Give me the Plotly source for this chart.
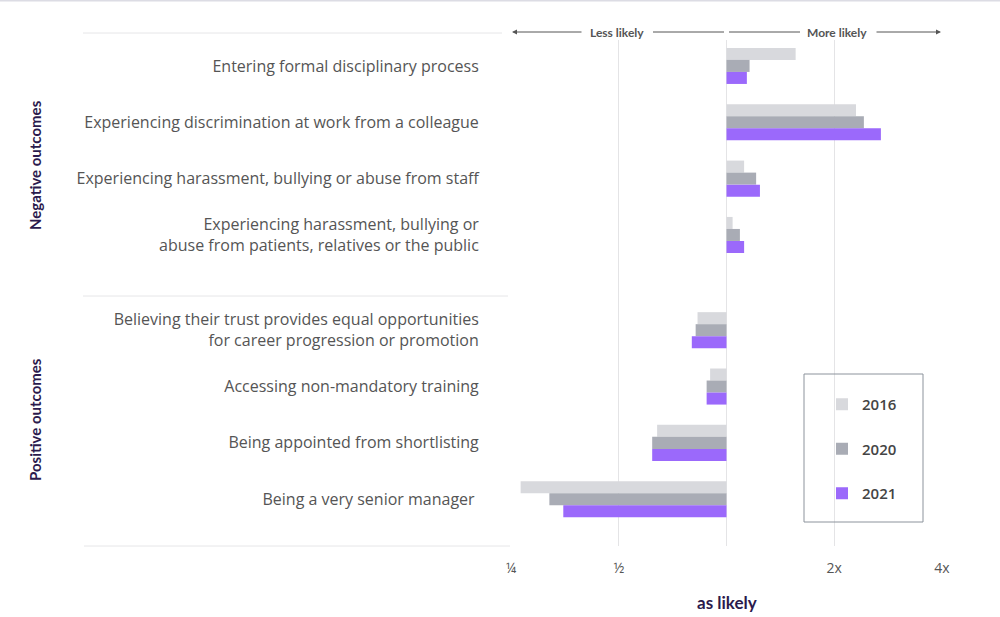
import plotly.graph_objects as go

# ---- data ----
categories = [
    "Entering formal disciplinary process",
    "Experiencing discrimination at work from a colleague",
    "Experiencing harassment, bullying or abuse from staff",
    "Experiencing harassment, bullying or<br>abuse from patients, relatives or the public",
    "Believing their trust provides equal opportunities<br>for career progression or promotion",
    "Accessing non-mandatory training",
    "Being appointed from shortlisting",
    "Being a very senior manager ",
]
sections = ["Negative outcomes"] * 4 + ["Positive outcomes"] * 4
years = ["2016", "2020", "2021"]
ratio_2016 = [1.56, 2.30, 1.12, 1.04, 0.83, 0.90, 0.64, 0.266]
ratio_2020 = [1.16, 2.42, 1.21, 1.09, 0.82, 0.88, 0.62, 0.32]
ratio_2021 = [1.14, 2.70, 1.24, 1.12, 0.80, 0.88, 0.62, 0.35]
tick_vals = [0.25, 0.5, 1, 2, 4]
tick_text = ["¼", "½", "", "2x", "4x"]

series = [ratio_2016, ratio_2020, ratio_2021]
colors = ["#d8d9dd", "#a9acb5", "#9b69fb"]

# category positions: extra gap between the two sections
section_gap = 0.69
ypos = []
for i, s in enumerate(sections):
    ypos.append(i + (section_gap if s == "Positive outcomes" else 0))

W, H = 1000, 617
L, R, T, B = 511, 58, 40, 71
pw, ph = W - L - R, H - T - B


def px(xp):
    return (xp - L) / pw


def py(yp):
    return (H - B - yp) / ph


fig = go.Figure()
for yr, vals, col in zip(years, series, colors):
    fig.add_trace(go.Bar(
        y=ypos, x=[v - 1 for v in vals], base=1, orientation="h",
        name=yr, legendgroup=yr, marker=dict(color=col, line=dict(width=0)),
        customdata=vals, hovertemplate="%{customdata}<extra>" + yr + "</extra>",
    ))

gray = "#555555"
purple = "#2b1a4d"
label_font = "'Open Sans', sans-serif"
bold_font = "Lato, sans-serif"

fig.update_layout(
    width=W, height=H,
    margin=dict(l=L, r=R, t=T, b=B),
    paper_bgcolor="white", plot_bgcolor="white",
    barmode="group", bargap=0.36, bargroupgap=0,
    font=dict(family=label_font, color=gray, size=15),
    showlegend=True,
    legend=dict(
        x=px(822), y=py(388), xanchor="left", yanchor="top",
        bgcolor="rgba(0,0,0,0)", borderwidth=0,
        font=dict(family=label_font, size=15, color="#444444", weight=600),
        tracegroupgap=22, traceorder="grouped",
    ),
    xaxis=dict(
        type="log", range=[-0.60206, 0.60206],
        tickvals=tick_vals, ticktext=tick_text,
        showgrid=True, gridcolor="#e4e4e6", gridwidth=1,
        zeroline=False, showline=False,
        ticks="outside", ticklen=9, tickcolor="rgba(0,0,0,0)",
        tickfont=dict(family=label_font, size=14, color=gray),
    ),
    yaxis=dict(
        range=[8.52, -0.46],
        tickvals=ypos, ticktext=categories,
        showgrid=False, zeroline=False, showline=False,
        ticks="outside", ticklen=28, tickcolor="rgba(0,0,0,0)",
        tickfont=dict(family=label_font, size=16, color=gray),
    ),
)

line_col = "#e6e6e8"
shapes = [
    dict(type="line", xref="paper", yref="paper", x0=px(0), x1=px(1000), y0=py(0.5), y1=py(0.5),
         line=dict(color="#dcdce4", width=2)),
    dict(type="line", xref="paper", yref="paper", x0=px(83), x1=px(502), y0=py(33), y1=py(33),
         line=dict(color=line_col, width=1)),
    dict(type="line", xref="paper", yref="paper", x0=px(83), x1=px(508), y0=py(296), y1=py(296),
         line=dict(color=line_col, width=1)),
    dict(type="line", xref="paper", yref="paper", x0=px(84), x1=px(510), y0=py(546), y1=py(546),
         line=dict(color=line_col, width=1)),
    # middle arrow segments
    dict(type="line", xref="paper", yref="paper", x0=px(653), x1=px(724), y0=py(32), y1=py(32),
         line=dict(color=gray, width=1)),
    dict(type="line", xref="paper", yref="paper", x0=px(729), x1=px(800), y0=py(32), y1=py(32),
         line=dict(color=gray, width=1)),
    # legend box
    dict(type="rect", xref="paper", yref="paper", x0=px(804), x1=px(923), y0=py(522), y1=py(374),
         line=dict(color="#8c939c", width=1), fillcolor="rgba(0,0,0,0)"),
]
fig.update_layout(shapes=shapes)

annotations = [
    dict(text="Less likely", xref="paper", yref="paper", x=px(617), y=py(32),
         showarrow=False, font=dict(family=bold_font, size=12, color=gray, weight=700),
         xanchor="center", yanchor="middle"),
    dict(text="More likely", xref="paper", yref="paper", x=px(837), y=py(32),
         showarrow=False, font=dict(family=bold_font, size=12, color=gray, weight=700),
         xanchor="center", yanchor="middle"),
    dict(text="", xref="paper", yref="paper", x=px(512), y=py(32), ax=71, ay=0,
         axref="pixel", ayref="pixel", showarrow=True, arrowhead=2, arrowsize=1,
         arrowwidth=1, arrowcolor=gray),
    dict(text="", xref="paper", yref="paper", x=px(941), y=py(32), ax=-66, ay=0,
         axref="pixel", ayref="pixel", showarrow=True, arrowhead=2, arrowsize=1,
         arrowwidth=1, arrowcolor=gray),
    dict(text="<b>as likely</b>", xref="x", yref="paper", x=0, y=py(602),
         showarrow=False, font=dict(family=bold_font, size=17, color=purple),
         xanchor="center", yanchor="middle"),
    dict(text="<b>Negative outcomes</b>", xref="paper", yref="paper", x=px(35), y=py(165),
         textangle=-90, showarrow=False, font=dict(family=bold_font, size=15, color=purple),
         xanchor="center", yanchor="middle"),
    dict(text="<b>Positive outcomes</b>", xref="paper", yref="paper", x=px(35), y=py(420),
         textangle=-90, showarrow=False, font=dict(family=bold_font, size=15, color=purple),
         xanchor="center", yanchor="middle"),
]
fig.update_layout(annotations=annotations)

fig.write_html("out.html")
